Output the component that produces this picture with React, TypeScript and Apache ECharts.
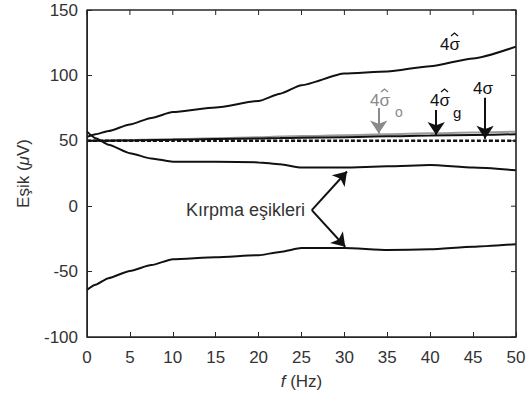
import React, { useEffect, useRef } from "react";
import * as echarts from "echarts";

const freqs = [0, 1, 2.5, 5, 7.5, 10, 15, 20, 22.5, 25, 30, 35, 40, 45, 50];
const sigmaHat = [53, 55, 57.5, 62.5, 67.5, 72, 75.5, 80.5, 86, 92.5, 101.5, 103, 107, 113, 122];
const sigmaHatO = [50, 50, 50.2, 50.5, 51, 51.3, 52, 52.8, 53.2, 53.6, 54.3, 55, 55.7, 56.3, 57];
const sigmaHatG = [50, 50, 50.1, 50.3, 50.6, 50.8, 51.3, 51.8, 52.1, 52.3, 52.8, 53.4, 54, 54.5, 55];
const sigmaTrue = [50, 50, 50, 50, 50, 50, 50, 50, 50, 50, 50, 50, 50, 50, 50];
const clipUpper = [57, 52, 47, 40.5, 36.5, 34, 34, 33.5, 32, 29.5, 29.5, 30.5, 31.5, 29.5, 27.5];
const clipLower = [-64, -60, -55, -49.5, -45, -40.5, -39, -37.5, -35, -32, -32, -33.5, -33, -31, -29];

const xTicks = [0, 5, 10, 15, 20, 25, 30, 35, 40, 45, 50];
const yTicks = [-100, -50, 0, 50, 100, 150];
const xMin = 0, xMax = 50, yMin = -100, yMax = 150;

const pairs = (vals: number[]) => freqs.map((f, i) => [f, vals[i]]);

const FONT = "Liberation Sans, Arial, sans-serif";
const TXT = "#333";
const AX = "#262626";
const G = { left: 87, right: 14, top: 10, bottom: 66 };
const W = 530, H = 403;

export default function App() {
  const ref = useRef<HTMLDivElement>(null);
  useEffect(() => {
    if (!ref.current) return;
    const chart = echarts.init(ref.current, null, { renderer: "svg" });
    const axisLine = { show: true, onZero: false, lineStyle: { color: AX, width: 1 } };
    const axisTick = { show: true, inside: true, length: 5, lineStyle: { color: AX } };
    const line = (name: string, vals: number[], color: string, extra: any = {}) => ({
      name,
      type: "line",
      data: pairs(vals),
      showSymbol: false,
      symbol: "none",
      smooth: 0.2,
      smoothMonotone: "x",
      lineStyle: { color, width: 2, ...(extra.lineStyle || {}) },
      silent: true,
      z: extra.z || 2,
      ...(extra.rest || {}),
    });
    const arrow = (from: number[], to: number[], color: string) => [
      { coord: from, lineStyle: { color, width: 2, type: "solid" } },
      { coord: to },
    ];
    const hat = (cx: number, cy: number, color: string) => ({
      type: "polyline",
      shape: { points: [[cx - 3.5, cy + 3], [cx, cy], [cx + 3.5, cy + 3]] },
      style: { stroke: color, lineWidth: 1.3, fill: null },
      silent: true,
    });
    const pw = W - G.left - G.right;
    const ph = H - G.top - G.bottom;
    const frameItems: any[] = [
      {
        type: "rect",
        shape: { x: G.left, y: G.top, width: pw, height: ph },
        style: { stroke: AX, lineWidth: 1.2, fill: "none" },
        silent: true,
        z: 10,
      },
      ...xTicks.map((t) => {
        const x = G.left + ((t - xMin) / (xMax - xMin)) * pw;
        return { type: "line", shape: { x1: x, y1: G.top, x2: x, y2: G.top + 5 }, style: { stroke: AX, lineWidth: 1 }, silent: true, z: 10 };
      }),
      ...yTicks.map((t) => {
        const y = G.top + ((yMax - t) / (yMax - yMin)) * ph;
        return { type: "line", shape: { x1: G.left + pw, y1: y, x2: G.left + pw - 5, y2: y }, style: { stroke: AX, lineWidth: 1 }, silent: true, z: 10 };
      }),
    ];
    const labels: any[] = [
      { type: "text", x: 440, y: 44, style: { text: "4σ", font: `17px ${FONT}`, fill: "#111", verticalAlign: "middle" } },
      hat(454.5, 33, "#111"),
      { type: "text", x: 370, y: 100, style: { text: "4σ", font: `17px ${FONT}`, fill: "#8a8a8a", verticalAlign: "middle" } },
      hat(384.5, 89, "#8a8a8a"),
      { type: "text", x: 395, y: 112, style: { text: "o", font: `14px ${FONT}`, fill: "#8a8a8a", verticalAlign: "middle" } },
      { type: "text", x: 430, y: 100, style: { text: "4σ", font: `17px ${FONT}`, fill: "#111", verticalAlign: "middle" } },
      hat(444.5, 89, "#111"),
      { type: "text", x: 453, y: 112, style: { text: "g", font: `15px ${FONT}`, fill: "#111", verticalAlign: "middle" } },
      { type: "text", x: 473, y: 88, style: { text: "4σ", font: `17px ${FONT}`, fill: "#111", verticalAlign: "middle" } },
      { type: "text", x: 305, y: 210, style: { text: "Kırpma eşikleri", font: `18px ${FONT}`, fill: TXT, align: "right", verticalAlign: "middle" } },
    ];
    chart.setOption({
      animation: false,
      grid: { ...G, show: true, borderColor: AX, borderWidth: 1 },
      xAxis: {
        type: "value",
        min: xMin,
        max: xMax,
        interval: 5,
        position: "bottom",
        axisLine,
        axisTick,
        splitLine: { show: false },
        axisLabel: { color: TXT, fontSize: 17, fontFamily: FONT, margin: 12 },
        name: "{i|f} (Hz)",
        nameLocation: "middle",
        nameGap: 36,
        nameTextStyle: {
          color: TXT,
          fontSize: 17,
          fontFamily: FONT,
          rich: { i: { fontStyle: "italic", fontSize: 17, fontFamily: FONT, color: TXT } },
        },
      },
      yAxis: {
        type: "value",
        min: yMin,
        max: yMax,
        interval: 50,
        position: "left",
        axisLine,
        axisTick,
        splitLine: { show: false },
        axisLabel: { color: TXT, fontSize: 17, fontFamily: FONT, margin: 9 },
        name: "Eşik ({i|μ}V)",
        nameLocation: "middle",
        nameGap: 55,
        nameTextStyle: {
          color: TXT,
          fontSize: 17,
          fontFamily: FONT,
          rich: { i: { fontStyle: "italic", fontSize: 17, fontFamily: FONT, color: TXT } },
        },
      },
      series: [
        line("4σ̂", sigmaHat, "#111"),
        line("4σ̂o", sigmaHatO, "#9a9a9a"),
        line("4σ̂g", sigmaHatG, "#111", { z: 3 }),
        line("4σ", sigmaTrue, "#111", { lineStyle: { type: [4, 2], width: 2.5 }, z: 4 }),
        line("clipUpper", clipUpper, "#111"),
        line("clipLower", clipLower, "#111", {
          rest: {
            markLine: {
              silent: true,
              symbol: ["none", "arrow"],
              symbolSize: 13,
              label: { show: false },
              emphasis: { disabled: true },
              data: [
                arrow([34, 75], [34, 55.5], "#8a8a8a"),
                arrow([40.7, 73.5], [40.7, 54.5], "#111"),
                arrow([46.4, 83], [46.4, 51.5], "#111"),
                arrow([26.2, -3], [30.3, 26.5], "#111"),
                arrow([26.2, -3], [30.1, -31], "#111"),
              ],
            },
          },
        }),
      ],
      graphic: [...labels, ...frameItems],
    });
    return () => chart.dispose();
  }, []);
  return <div ref={ref} style={{ width: W, height: H, position: "absolute", left: 0, top: 0 }} />;
}
